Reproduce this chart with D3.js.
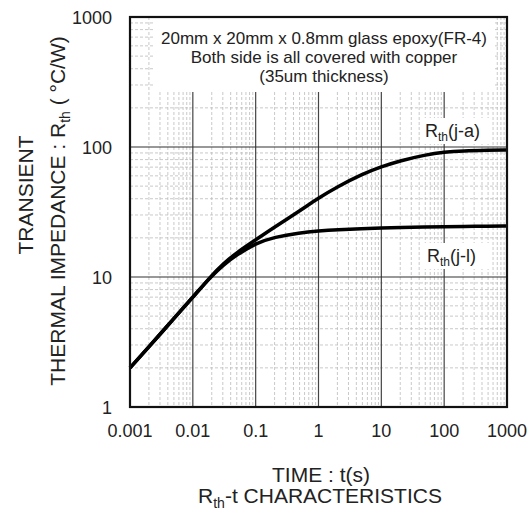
<!DOCTYPE html>
<html>
<head>
<meta charset="utf-8">
<script src="https://cdn.jsdelivr.net/npm/d3@7"></script>
<style>
  body { margin: 0; background: #fff; }
  svg text { font-family: "Liberation Sans", Arial, sans-serif; fill: #222; }
</style>
</head>
<body>
<svg id="chart" width="530" height="510"></svg>
<script>
// time (s)
const times = [0.001, 0.002, 0.005, 0.01, 0.02, 0.03, 0.05, 0.1, 0.2, 0.5, 1, 2, 5, 10, 20, 50, 100, 200, 500, 1000];
// Rth(j-a) and Rth(j-l), degC/W
const rthJA = [2.0, 2.9, 4.8, 7.0, 10.3, 12.6, 15.4, 19.3, 24.2, 32.2, 40.5, 49.5, 62, 70.5, 78.5, 87, 91.5, 93.5, 94.5, 95];
const rthJL = [2.0, 2.9, 4.8, 7.0, 10.2, 12.3, 14.8, 18.2, 20.3, 21.9, 22.6, 23.1, 23.5, 23.8, 24.0, 24.2, 24.4, 24.5, 24.6, 24.7];
const xTicks = [0.001, 0.01, 0.1, 1, 10, 100, 1000];
const xTickLabels = ["0.001", "0.01", "0.1", "1", "10", "100", "1000"];
const yTicks = [1, 10, 100, 1000];
const yTickLabels = ["1", "10", "100", "1000"];
const noteLines = ["20mm x 20mm x 0.8mm glass epoxy(FR-4)", "Both side is all covered with copper", "(35um thickness)"];

const margin = { top: 17, left: 130, right: 23, bottom: 103 };
const W = 530, H = 510;
const width = W - margin.left - margin.right,
      height = H - margin.top - margin.bottom;

const svg = d3.select("#chart");
const g = svg.append("g").attr("transform", `translate(${margin.left},${margin.top})`);

const x = d3.scaleLog().domain([0.001, 1000]).range([0, width]);
const y = d3.scaleLog().domain([1, 1000]).range([height, 0]);

// minor grid
const minorX = [], minorY = [];
for (let d = 0.001; d < 1000; d *= 10) for (let k = 2; k <= 9; k++) minorX.push(d * k);
for (let d = 1; d < 1000; d *= 10) for (let k = 2; k <= 9; k++) minorY.push(d * k);

g.append("g").selectAll("line").data(minorX).join("line")
    .attr("x1", d => x(d)).attr("x2", d => x(d))
    .attr("y1", 0).attr("y2", height)
    .attr("stroke", "#bbb").attr("stroke-width", 0.8).attr("stroke-dasharray", "3,2");
g.append("g").selectAll("line").data(minorY).join("line")
    .attr("y1", d => y(d)).attr("y2", d => y(d))
    .attr("x1", 0).attr("x2", width)
    .attr("stroke", "#bbb").attr("stroke-width", 0.8).attr("stroke-dasharray", "3,2");

// major grid
g.append("g").selectAll("line").data(xTicks.slice(1, -1)).join("line")
    .attr("x1", d => x(d)).attr("x2", d => x(d))
    .attr("y1", 0).attr("y2", height)
    .attr("stroke", "#444").attr("stroke-width", 1.2);
g.append("g").selectAll("line").data(yTicks.slice(1, -1)).join("line")
    .attr("y1", d => y(d)).attr("y2", d => y(d))
    .attr("x1", 0).attr("x2", width)
    .attr("stroke", "#333").attr("stroke-width", 1.2);

// note box (white, hides grid)
g.append("rect")
    .attr("x", 23).attr("y", 0).attr("width", 342).attr("height", 75)
    .attr("fill", "#fff");
g.append("text")
    .attr("x", 194).attr("y", 27)
    .attr("text-anchor", "middle")
    .style("font-size", "17px")
    .selectAll("tspan").data(noteLines).join("tspan")
    .attr("x", 194).attr("dy", (d, i) => i === 0 ? 0 : 19.2)
    .text(d => d);

// curve labels
function rthLabel(px, py, suffix) {
    g.append("rect").attr("x", px - 5).attr("y", py - 19).attr("width", 70).attr("height", 26).attr("fill", "#fff");
    const t = g.append("text").attr("x", px).attr("y", py).style("font-size", "18px");
    t.append("tspan").text("R");
    t.append("tspan").attr("dy", 4).style("font-size", "12px").text("th");
    t.append("tspan").attr("dy", -4).text(suffix);
}
rthLabel(295, 120, "(j-a)");
rthLabel(297, 245, "(j-l)");

// curves
const line = d3.line()
    .x(d => x(d[0])).y(d => y(d[1]))
    .curve(d3.curveBasis);
[rthJA, rthJL].forEach(s => {
    g.append("path")
        .datum(times.map((t, i) => [t, s[i]]))
        .attr("d", line)
        .attr("fill", "none").attr("stroke", "#000").attr("stroke-width", 3.5)
        .attr("stroke-linejoin", "round");
});

// frame
g.append("rect").attr("width", width).attr("height", height)
    .attr("fill", "none").attr("stroke", "#111").attr("stroke-width", 2.2);

// tick labels
g.append("g").selectAll("text").data(xTicks).join("text")
    .attr("x", d => x(d)).attr("y", height + 30)
    .attr("text-anchor", "middle").style("font-size", "18px")
    .text((d, i) => xTickLabels[i]);
g.append("g").selectAll("text").data(yTicks).join("text")
    .attr("x", -18).attr("y", d => y(d) + 6.5)
    .attr("text-anchor", "end").style("font-size", "18px")
    .text((d, i) => yTickLabels[i]);

// x title
svg.append("text").attr("x", 321).attr("y", 482)
    .attr("text-anchor", "middle").style("font-size", "21px").text("TIME : t(s)");
const xt2 = svg.append("text").attr("x", 320).attr("y", 503)
    .attr("text-anchor", "middle").style("font-size", "21px");
xt2.append("tspan").text("R");
xt2.append("tspan").attr("dy", 5).style("font-size", "14px").text("th");
xt2.append("tspan").attr("dy", -5).text("-t CHARACTERISTICS");

// y title
svg.append("text").attr("transform", "translate(33,195) rotate(-90)")
    .attr("text-anchor", "middle").style("font-size", "21px").text("TRANSIENT");
const yt2 = svg.append("text").attr("transform", "translate(65,211) rotate(-90)")
    .attr("text-anchor", "middle").style("font-size", "21px");
yt2.append("tspan").text("THERMAL IMPEDANCE : R");
yt2.append("tspan").attr("dy", 5).style("font-size", "14px").text("th");
yt2.append("tspan").attr("dy", -5).text(" ( \u00B0C/W)");
</script>
</body>
</html>
